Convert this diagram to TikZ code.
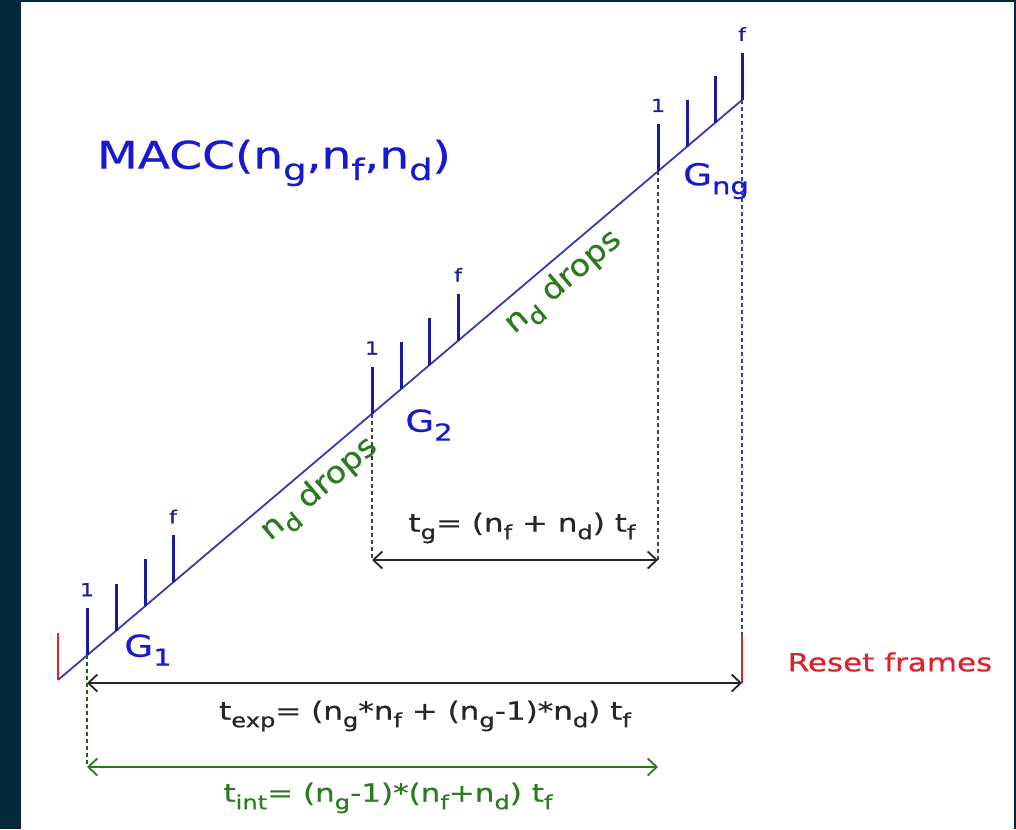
\documentclass[tikz,border=0pt]{standalone}
\usepackage{fontspec}
\setmainfont[FakeStretch=1.24,FakeBold=0.6]{DejaVu Sans}
\newfontfamily\dropsfont[FakeStretch=1.12,FakeBold=0.6]{DejaVu Sans}
\usetikzlibrary{arrows.meta}
\definecolor{bgdark}{HTML}{04293D}
\definecolor{lineblue}{HTML}{3A3AB0}
\definecolor{tickblue}{HTML}{1A1A9A}
\definecolor{txtblue}{HTML}{1818D0}
\definecolor{dgreen}{HTML}{2A7A1E}
\definecolor{rred}{HTML}{E0202A}
\newcommand\sbs[1]{\raisebox{-0.3em}{\scalebox{0.78}{#1}}}
\tikzset{
  tick/.style={draw=tickblue, line width=3pt},
  ticklbl/.style={text=tickblue, font=\fontsize{18}{20}\selectfont, anchor=south, inner sep=1pt},
  glbl/.style={text=txtblue, font=\fontsize{30}{32}\selectfont},
  dimarrow/.style={line width=1.8pt, {Straight Barb[length=9pt,width=17pt]}-{Straight Barb[length=9pt,width=17pt]}},
  guide/.style={line width=1.5pt, dash pattern=on 4pt off 3pt},
  drops/.style={text=dgreen, font=\dropsfont\fontsize{30}{32}\selectfont, rotate=40.3},
  formula/.style={font=\fontsize{25}{28}\selectfont},
  reset/.style={draw=rred, line width=2.2pt}
}
\begin{document}
\begin{tikzpicture}[x=1pt,y=-1pt]
\fill[bgdark] (0,0) rectangle (1016,829);
\fill[white] (21,2) rectangle (1014,829);
\useasboundingbox (0,0) rectangle (1016,829);
% main ramp
\coordinate (A) at (58,680);
\coordinate (B) at (742,100);
\draw[lineblue, line width=1.8pt] (A) -- (B);
% group ticks
\foreach \g/\xa/\xb/\xc/\xd in {1/87/116/145/173, 2/372/401/429/458, 3/658/687/715/742} {
  \foreach \x [count=\i] in {\xa,\xb,\xc,\xd} {
    \pgfmathsetmacro\yb{680-(\x-58)*0.848}
    \coordinate (t\g\i) at (\x,\yb);
    \coordinate (u\g\i) at (\x,\yb-47);
    \draw[tick] (t\g\i) -- (u\g\i);
  }
  \node[ticklbl] (one\g) at ([yshift=11pt]u\g1) {1};
  \node[ticklbl] (eff\g) at ([yshift=11pt]u\g4) {f};
}
% group labels
\node[glbl] (G1) at (148,650) {G\sbs{1}};
\node[glbl] (G2) at (429,425) {G\sbs{2}};
\node[glbl] (Gng) at (716,181) {G\sbs{ng}};
% title
\node[text=txtblue, font=\fontsize{38}{40}\selectfont] (title) at (274,163) {MACC(n\sbs{g},n\sbs{f},n\sbs{d})};
% drops labels
\node[drops] (d1) at (320,490) {n\sbs{d} drops};
\node[drops] (d2) at (564,283) {n\sbs{d} drops};
% reset frames
\coordinate (r1a) at (58,633);
\draw[reset] (r1a) -- (A);
\coordinate (r2a) at (742,635);
\coordinate (r2b) at (742,683);
\draw[reset] (r2a) -- (r2b);
\node[text=rred, font=\fontsize{25}{28}\selectfont] (resetlbl) at (890,662) {Reset frames};
% guides
\coordinate (g2b) at (372,560);
\coordinate (gnb) at (658,560);
\coordinate (e1) at (87,683);
\coordinate (i1) at (87,767);
\coordinate (i2) at (658,767);
\draw[guide, draw=black!75] (t21) -- (g2b);
\draw[guide, draw=black!75] (t31) -- (gnb);
\draw[guide, draw=lineblue] (B) -- (r2a);
\draw[guide, draw=dgreen!80!black] (t11) -- (i1);
% dimension arrows
\draw[dimarrow, draw=black!85] (g2b) -- (gnb);
\draw[dimarrow, draw=black!85] (e1) -- (r2b);
\draw[dimarrow, draw=dgreen] (i1) -- (i2);
% formulas
\node[formula, text=black!85] (tg) at (522,528) {t\sbs{g}= (n\sbs{f} + n\sbs{d}) t\sbs{f}};
\node[formula, text=black!85] (texp) at (425,716) {t\sbs{exp}= (n\sbs{g}*n\sbs{f} + (n\sbs{g}-1)*n\sbs{d}) t\sbs{f}};
\node[formula, text=dgreen] (tint) at (388,798) {t\sbs{int}= (n\sbs{g}-1)*(n\sbs{f}+n\sbs{d}) t\sbs{f}};
\end{tikzpicture}
\end{document}
